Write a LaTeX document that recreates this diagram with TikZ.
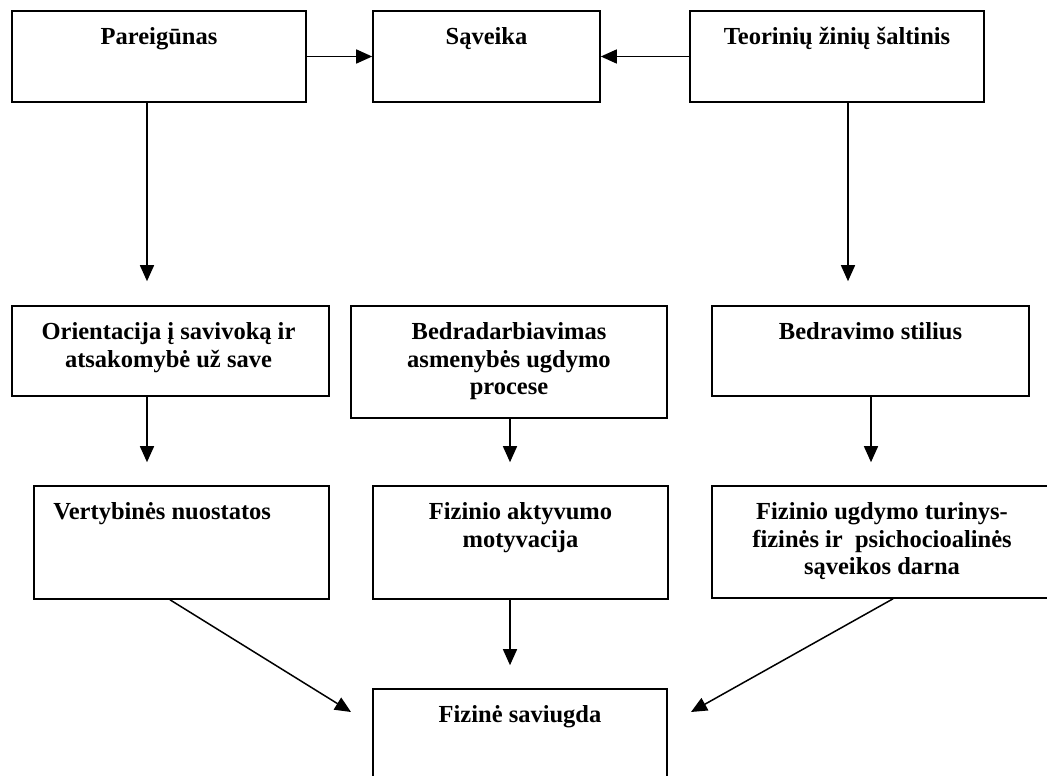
\documentclass[tikz,border=0pt]{standalone}
\usepackage{fontspec}
\setmainfont{Liberation Serif}
\usetikzlibrary{arrows.meta,calc}
\tikzset{
  box/.style={draw=black, line width=1.6pt, rectangle, inner sep=0pt, fill=white},
  lbl/.style={inner sep=0pt, align=center, font=\bfseries\fontsize{24.5}{27.5}\selectfont},
  arr/.style={draw=black, line width=1.5pt, -{Triangle[length=16pt,width=14pt]}},
}
\begin{document}
\begin{tikzpicture}[x=1pt,y=-1pt]
\useasboundingbox (0,0) rectangle (1047,776);
\clip (0,0) rectangle (1047,776);
\fill[white] (0,0) rectangle (1047,776);
% boxes
\node[box, minimum width=294pt, minimum height=91pt] (p) at (159,56.5) {};
\node[box, minimum width=227pt, minimum height=91pt] (s) at (486.5,56.5) {};
\node[box, minimum width=294pt, minimum height=91pt] (t) at (837,56.5) {};
\node[box, minimum width=317pt, minimum height=90pt] (o) at (170.5,351) {};
\node[box, minimum width=316pt, minimum height=112pt] (b) at (509,362) {};
\node[box, minimum width=317pt, minimum height=90pt] (bs) at (870.5,351) {};
\node[box, minimum width=295pt, minimum height=113pt] (v) at (181.5,542.5) {};
\node[box, minimum width=295pt, minimum height=113pt] (f) at (520.5,542.5) {};
\node[box, minimum width=340pt, minimum height=112pt] (fu) at (882,542) {};
\node[box, minimum width=294pt, minimum height=111pt] (fs) at (520,744.5) {};
% labels
\node[lbl, anchor=north] (pl) at ($(p.north)+(0,15)$) {\strut Pareigūnas};
\node[lbl, anchor=north] (sl) at ($(s.north)+(0,15)$) {\strut Sąveika};
\node[lbl, anchor=north] (tl) at ($(t.north)+(0,15)$) {\strut Teorinių žinių šaltinis};
\node[lbl, anchor=north] (ol) at ($(o.north)+(-2,15)$) {\strut Orientacija į savivoką ir\\\strut atsakomybė už save};
\node[lbl, anchor=north] (bl) at ($(b.north)+(0,15)$) {\strut Bedradarbiavimas\\\strut asmenybės ugdymo\\\strut procese};
\node[lbl, anchor=north] (bsl) at ($(bs.north)+(0,15)$) {\strut Bedravimo stilius};
\node[lbl, anchor=north west] (vl) at ($(v.north west)+(20,15)$) {\strut Vertybinės nuostatos};
\node[lbl, anchor=north] (fl) at ($(f.north)+(0,15)$) {\strut Fizinio aktyvumo\\\strut motyvacija};
\node[lbl, anchor=north] (ful) at ($(fu.north)+(0,15)$) {\strut Fizinio ugdymo turinys-\\\strut fizinės ir~ psichocioalinės\\\strut sąveikos darna};
\node[lbl, anchor=north] (fsl) at ($(fs.north)+(0,15)$) {\strut Fizinė saviugda};
% column coordinates
\coordinate (c1) at (147,0);
\coordinate (c2) at (510,0);
\coordinate (c3) at (848,0);
\coordinate (c4) at (871,0);
\coordinate (dl0) at (170,0);
\coordinate (dr0) at (893,0);
\coordinate (dl1) at (351,712);
\coordinate (dr1) at (691,712);
% connectors
\draw[arr] (p.east) -- (s.west);
\draw[arr] (t.west) -- (s.east);
\draw[arr, shorten >=24pt] (p.south -| c1) -- (o.north -| c1);
\draw[arr, shorten >=24pt] (t.south -| c3) -- (bs.north -| c3);
\draw[arr, shorten >=23pt] (o.south -| c1) -- (v.north -| c1);
\draw[arr, shorten >=23pt] (b.south -| c2) -- (f.north -| c2);
\draw[arr, shorten >=23pt] (bs.south -| c4) -- (fu.north -| c4);
\draw[arr, shorten >=23pt] (f.south -| c2) -- (fs.north -| c2);
\draw[arr] (v.south -| dl0) -- (dl1);
\draw[arr] (fu.south -| dr0) -- (dr1);
\end{tikzpicture}
\end{document}
